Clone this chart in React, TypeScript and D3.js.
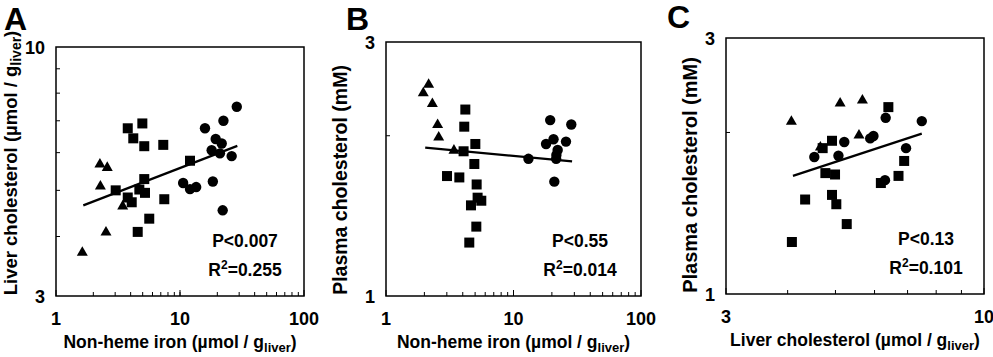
import React from "react";
import * as d3 from "d3";

// Panel A: non-heme iron vs liver cholesterol
const aTriX = [1.63, 2.26, 2.59, 2.28, 2.53, 3.45];
const aTriY = [3.71, 5.68, 5.59, 5.11, 4.09, 4.64];
const aSqX = [3.79, 4.97, 4.2, 5.15, 7.33, 12.04, 3.03, 5.15, 4.7, 5.22, 3.79, 4.08, 7.47, 5.65, 4.56];
const aSqY = [6.75, 6.91, 6.43, 6.19, 6.23, 5.77, 5.0, 5.28, 5.02, 4.94, 4.83, 4.72, 4.79, 4.36, 4.09];
const aCirX = [28.7, 22.4, 15.9, 19.4, 21.7, 18.0, 21.0, 26.1, 10.6, 12.04, 13.5, 18.4, 22.1];
const aCirY = [7.49, 7.0, 6.75, 6.41, 6.27, 6.07, 5.98, 5.9, 5.18, 5.03, 5.08, 5.22, 4.54];
const aFitX = [1.66, 29];
const aFitY = [4.65, 6.2];

// Panel B: non-heme iron vs plasma cholesterol
const bTriX = [1.96, 2.16, 2.31, 2.54, 2.59, 3.41];
const bTriY = [2.41, 2.5, 2.3, 2.1, 1.99, 1.88];
const bSqX = [4.19, 4.11, 5.02, 4.06, 4.93, 3.01, 3.76, 5.14, 5.23, 5.59, 4.64, 5.11, 4.5];
const bSqY = [2.24, 2.08, 1.93, 1.87, 1.77, 1.68, 1.67, 1.62, 1.53, 1.51, 1.48, 1.35, 1.26];
const bCirX = [19.4, 28.4, 20.6, 18.0, 25.8, 22.2, 21.7, 13.1, 21.6, 20.9];
const bCirY = [2.14, 2.1, 1.97, 1.93, 1.95, 1.88, 1.84, 1.81, 1.81, 1.64];
const bFitX = [2.03, 28.8];
const bFitY = [1.9, 1.79];

// Panel C: liver cholesterol vs plasma cholesterol
const cTriX = [4.07, 5.11, 5.67, 5.58, 4.66];
const cTriY = [2.1, 2.27, 2.3, 1.98, 1.88];
const cSqX = [6.4, 4.92, 4.71, 6.89, 4.77, 4.99, 6.71, 6.18, 4.34, 4.92, 5.02, 5.27, 4.08];
const cSqY = [2.23, 1.93, 1.87, 1.77, 1.68, 1.67, 1.66, 1.61, 1.5, 1.53, 1.47, 1.35, 1.25];
const cCirX = [7.48, 6.32, 5.97, 5.88, 5.21, 4.53, 5.07, 6.95, 6.3];
const cCirY = [2.1, 2.13, 1.97, 1.95, 1.92, 1.8, 1.81, 1.87, 1.63];
const cFitX = [4.1, 7.48];
const cFitY = [1.66, 1.99];

const ironDomain = [1, 100];
const ironTickLabels = ["1", "10", "100"];
const ironTickValues = [1, 10, 100];
const liverDomain = [3, 10];
const liverTickLabels = ["3", "10"];
const liverTickValues = [3, 10];
const plasmaDomain = [1, 3];
const plasmaTickLabels = ["1", "3"];
const plasmaTickValues = [1, 3];

const pValues = ["P<0.007", "P<0.55", "P<0.13"];
const r2Values = ["=0.255", "=0.014", "=0.101"];
const panelLetters = ["A", "B", "C"];

const FONT = "'Liberation Sans', Arial, Helvetica, sans-serif";

function minorTicks(domain: number[]) {
  const out: number[] = [];
  let dec = Math.pow(10, Math.floor(Math.log10(domain[0])));
  while (dec < domain[1]) {
    for (let m = 1; m <= 9; m++) {
      const v = m * dec;
      if (v > domain[0] + 1e-9 && v < domain[1] - 1e-9) out.push(v);
    }
    dec *= 10;
  }
  return out;
}

type Panel = {
  box: { l: number; t: number; r: number; b: number };
  xDomain: number[];
  yDomain: number[];
  xTicks: number[];
  xTickLabels: string[];
  yTicks: number[];
  yTickLabels: string[];
  tri: [number[], number[]];
  sq: [number[], number[]];
  cir: [number[], number[]];
  fit: [number[], number[]];
  xLabel: string;
  yLabel: string;
  ySub: boolean;
  statX: number;
  letter: string;
  letterX: number;
  letterY: number;
  yLabelX: number;
  yLabelY: number;
  yLabelSize: number;
  p: string;
  r2: string;
};

const panels: Panel[] = [
  {
    box: { l: 56, t: 47, r: 304, b: 296 },
    xDomain: ironDomain, yDomain: liverDomain,
    xTicks: ironTickValues, xTickLabels: ironTickLabels,
    yTicks: [10, 3], yTickLabels: ["10", "3"],
    tri: [aTriX, aTriY], sq: [aSqX, aSqY], cir: [aCirX, aCirY], fit: [aFitX, aFitY],
    xLabel: "Non-heme iron (µmol / g", yLabel: "Liver cholesterol (µmol / g", ySub: true,
    statX: 245, letter: panelLetters[0], letterX: 4, letterY: 30, yLabelX: 17, yLabelY: 163, yLabelSize: 18.5,
    p: pValues[0], r2: r2Values[0],
  },
  {
    box: { l: 386, t: 42, r: 641, b: 296 },
    xDomain: ironDomain, yDomain: plasmaDomain,
    xTicks: ironTickValues, xTickLabels: ironTickLabels,
    yTicks: plasmaTickValues, yTickLabels: plasmaTickLabels,
    tri: [bTriX, bTriY], sq: [bSqX, bSqY], cir: [bCirX, bCirY], fit: [bFitX, bFitY],
    xLabel: "Non-heme iron (µmol / g", yLabel: "Plasma cholesterol (mM)", ySub: false,
    statX: 580, letter: panelLetters[1], letterX: 346, letterY: 30, yLabelX: 347, yLabelY: 180, yLabelSize: 19.5,
    p: pValues[1], r2: r2Values[1],
  },
  {
    box: { l: 726, t: 38, r: 984, b: 294 },
    xDomain: liverDomain, yDomain: plasmaDomain,
    xTicks: liverTickValues, xTickLabels: liverTickLabels,
    yTicks: plasmaTickValues, yTickLabels: plasmaTickLabels,
    tri: [cTriX, cTriY], sq: [cSqX, cSqY], cir: [cCirX, cCirY], fit: [cFitX, cFitY],
    xLabel: "Liver cholesterol (µmol / g", yLabel: "Plasma cholesterol (mM)", ySub: false,
    statX: 926, letter: panelLetters[2], letterX: 667, letterY: 28, yLabelX: 697, yLabelY: 175, yLabelSize: 20,
    p: pValues[2], r2: r2Values[2],
  },
];

function PanelView({ p }: { p: Panel }) {
  const { l, t, r, b } = p.box;
  const x = d3.scaleLog().domain(p.xDomain).range([l, r]);
  const y = d3.scaleLog().domain(p.yDomain).range([b, t]);
  const xm = minorTicks(p.xDomain);
  const ym = minorTicks(p.yDomain);
  const line = d3.line<[number, number]>().x((d) => x(d[0])).y((d) => y(d[1]));
  const fitPts: [number, number][] = p.fit[0].map((v, i) => [v, p.fit[1][i]]);
  const tri = (cx: number, cy: number) => {
    const s = 11;
    const h = s * 0.87;
    return `M${cx},${cy - h * 0.62}L${cx + s / 2},${cy + h * 0.38}L${cx - s / 2},${cy + h * 0.38}Z`;
  };
  const sq = 10;
  const cxLabel = (l + r) / 2;
  return (
    <g>
      <text x={p.letterX} y={p.letterY} fontFamily={FONT} fontWeight="bold" fontSize={32}>{p.letter}</text>
      {xm.map((v, i) => (
        <line key={"xm" + i} x1={x(v)} x2={x(v)} y1={b} y2={b - 4} stroke="#000" strokeWidth={1} />
      ))}
      {ym.map((v, i) => (
        <line key={"ym" + i} x1={l} x2={l + 4} y1={y(v)} y2={y(v)} stroke="#000" strokeWidth={1} />
      ))}
      {p.xTicks.map((v, i) => (
        <line key={"xt" + i} x1={x(v)} x2={x(v)} y1={b} y2={b - 6} stroke="#000" strokeWidth={1} />
      ))}
      {p.xTicks.map((v, i) => (
        <text key={"xl" + i} x={x(v)} y={b + 29} textAnchor="middle" fontFamily={FONT} fontWeight="bold" fontSize={18}>
          {p.xTickLabels[i]}
        </text>
      ))}
      {p.yTicks.map((v, i) => (
        <text key={"yl" + i} x={l - 11} y={y(v) + 7} textAnchor="end" fontFamily={FONT} fontWeight="bold" fontSize={18}>
          {p.yTickLabels[i]}
        </text>
      ))}
      <rect x={l} y={t} width={r - l} height={b - t} fill="none" stroke="#000" strokeWidth={1.5} />
      {p.sq[0].map((v, i) => (
        <rect key={"s" + i} x={x(v) - sq / 2} y={y(p.sq[1][i]) - sq / 2} width={sq} height={sq} fill="#000" />
      ))}
      {p.cir[0].map((v, i) => (
        <circle key={"c" + i} cx={x(v)} cy={y(p.cir[1][i])} r={5.2} fill="#000" />
      ))}
      {p.tri[0].map((v, i) => (
        <path key={"t" + i} d={tri(x(v), y(p.tri[1][i]))} fill="#000" />
      ))}
      <path d={line(fitPts) || ""} stroke="#000" strokeWidth={2.2} fill="none" />
      <text x={p.statX} y={b - 49} textAnchor="middle" fontFamily={FONT} fontWeight="bold" fontSize={17.5}>{p.p}</text>
      <text x={p.statX} y={b - 20} textAnchor="middle" fontFamily={FONT} fontWeight="bold" fontSize={17.5}>
        R<tspan fontSize={12} dy={-7}>2</tspan><tspan dy={7}>{p.r2}</tspan>
      </text>
      <text x={cxLabel} y={b + 52} textAnchor="middle" fontFamily={FONT} fontWeight="bold" fontSize={17.5}>
        {p.xLabel}<tspan fontSize={13} dy={4}>liver</tspan><tspan dy={-4}>)</tspan>
      </text>
      <text
        transform={`translate(${p.yLabelX},${p.yLabelY}) rotate(-90)`}
        textAnchor="middle"
        fontFamily={FONT}
        fontWeight="bold"
        fontSize={p.yLabelSize}
      >
        {p.ySub ? (
          <>
            {p.yLabel}<tspan fontSize={14} dy={4}>liver</tspan><tspan dy={-4}>)</tspan>
          </>
        ) : (
          p.yLabel
        )}
      </text>
    </g>
  );
}

export default function App() {
  return (
    <svg
      width={993}
      height={357}
      viewBox="0 0 993 357"
      style={{ position: "absolute", left: 0, top: 0, background: "#fff" }}
    >
      <rect x={0} y={0} width={993} height={357} fill="#fff" />
      {panels.map((p, i) => (
        <PanelView key={i} p={p} />
      ))}
    </svg>
  );
}
